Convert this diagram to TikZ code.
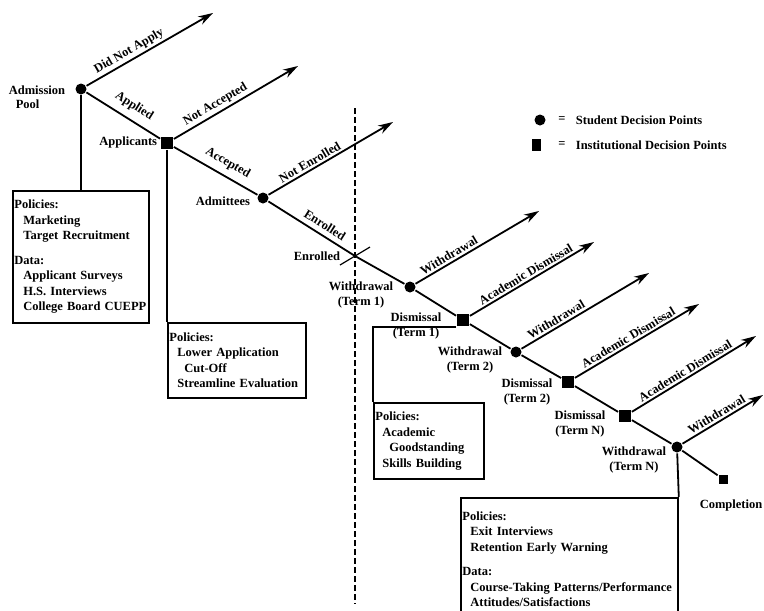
\documentclass[tikz,border=0pt]{standalone}
\usepackage{fontspec}
\setmainfont{Liberation Serif}
\usetikzlibrary{arrows.meta}
\begin{document}
\begin{tikzpicture}[x=1pt,y=-1pt,
  font=\fontsize{12.5}{14.5}\selectfont\bfseries,
  line width=1.8pt,
  dot/.style={circle,fill=black,inner sep=0pt,minimum size=11pt},
  sq/.style={rectangle,fill=black,inner sep=0pt,minimum size=12pt},
  arr/.style={-{Stealth[length=15pt,width=9pt]}},
  lbl/.style={sloped,above=2pt,inner sep=0pt},
  side/.style={inner sep=0pt,align=center},
  box/.style={draw,rectangle,anchor=north west,align=left,inner xsep=1.5pt,inner ysep=0pt,
    font=\fontsize{12.5}{15.5}\selectfont\bfseries}]
\path[fill=white,use as bounding box] (0,0) rectangle (764,611);

% decision points on the spine
\node[dot] (ap) at (81,89) {};
\node[sq] (appl) at (167,143) {};
\node[dot] (adm) at (263,198) {};
\coordinate (enr) at (355,256);
\node[dot] (w1) at (410,287) {};
\node[sq] (d1) at (463,320) {};
\node[dot] (w2) at (516,352) {};
\node[sq] (d2) at (568,382) {};
\node[sq] (dN) at (625,416) {};
\node[dot] (wN) at (677,447) {};
\node[sq,minimum size=9pt] (comp) at (723,479) {};

% arrow tips
\coordinate (t1) at (213,13);
\coordinate (t2) at (298,66);
\coordinate (t3) at (393,122);
\coordinate (t4) at (539,211);
\coordinate (t5) at (594,242);
\coordinate (t6) at (649,273);
\coordinate (t7) at (699,304);
\coordinate (t8) at (756,336);
\coordinate (t9) at (763,395);

% spine
\draw (ap) -- node[lbl,pos=.55,above=5pt]{Applied} (appl)
  -- node[lbl,pos=.57,above=4pt]{Accepted} (adm)
  -- node[lbl,pos=.59,above=3pt]{Enrolled} (enr)
  -- (w1) -- (d1) -- (w2) -- (d2) -- (dN) -- (wN) -- (comp);

% exits
\draw[arr] (ap) -- node[lbl,pos=.37]{Did Not Apply} (t1);
\draw[arr] (appl) -- node[lbl,pos=.37]{Not Accepted} (t2);
\draw[arr] (adm) -- node[lbl,pos=.36]{Not Enrolled} (t3);
\draw[arr] (w1) -- node[lbl,pos=.30]{Withdrawal} (t4);
\draw[arr] (d1) -- node[lbl,pos=.48]{Academic Dismissal} (t5);
\draw[arr] (w2) -- node[lbl,pos=.30]{Withdrawal} (t6);
\draw[arr] (d2) -- node[lbl,pos=.46]{Academic Dismissal} (t7);
\draw[arr] (dN) -- node[lbl,pos=.46]{Academic Dismissal} (t8);
\draw[arr] (wN) -- node[lbl,pos=.47]{Withdrawal} (t9);

% enrolled cross and dashed divider
\coordinate (cx1) at (340,265);
\coordinate (cx2) at (370,247);
\draw[line width=1.2pt] (cx1) -- (cx2);
\coordinate (dtop) at (355,108);
\coordinate (dbot) at (355,604);
\draw[dash pattern=on 6pt off 3pt] (dtop) -- (dbot);

% point labels
\node[side,anchor=east,align=left] (apL) at (66,97) {Admission\\\hspace*{7pt}Pool};
\node[side,anchor=east] (applL) at (158,142) {Applicants};
\node[side,anchor=east] (admL) at (251,201) {Admittees};
\node[side,anchor=east] (enrL) at (341,256) {Enrolled};
\node[side] (w1L) at (361,295) {Withdrawal\\(Term 1)};
\node[side] (d1L) at (416,326) {Dismissal\\(Term 1)};
\node[side] (w2L) at (470,360) {Withdrawal\\(Term 2)};
\node[side] (d2L) at (527,392) {Dismissal\\(Term 2)};
\node[side] (dNL) at (580,424) {Dismissal\\(Term N)};
\node[side] (wNL) at (634,460) {Withdrawal\\(Term N)};
\node[side] (compL) at (731,505) {Completion};

% legend
\node[dot] (lg1) at (540,120) {};
\node[inner sep=0pt] (lg1e) at (562,120) {=};
\node[anchor=west,inner sep=0pt] (lg1t) at (575,120) {Student Decision Points};
\node[sq,minimum width=9pt] (lg2) at (536,145) {};
\node[inner sep=0pt] (lg2e) at (562,145) {=};
\node[anchor=west,inner sep=0pt] (lg2t) at (575,145) {Institutional Decision Points};

% policy boxes
\node[box,text width=133pt,minimum height=132pt] (b1) at (12,190)
  {Policies:\\\hspace*{9pt}Marketing\\\hspace*{9pt}Target Recruitment\\[9pt]
   Data:\\\hspace*{9pt}Applicant Surveys\\\hspace*{9pt}H.S. Interviews\\\hspace*{9pt}College Board CUEPP};
\node[box,text width=135pt,minimum height=75pt] (b2) at (167,322)
  {Policies:\\\hspace*{8pt}Lower Application\\\hspace*{15pt}Cut-Off\\\hspace*{8pt}Streamline Evaluation};
\node[box,text width=107pt,minimum height=76pt] (b3) at (373,402)
  {Policies:\\\hspace*{7pt}Academic\\\hspace*{14pt}Goodstanding\\\hspace*{7pt}Skills Building};
\node[box,text width=214pt,minimum height=123pt] (b4) at (460,497)
  {Policies:\\\hspace*{8pt}Exit Interviews\\\hspace*{8pt}Retention Early Warning\\[9pt]
   Data:\\\hspace*{8pt}Course-Taking Patterns/Performance\\\hspace*{8pt}Attitudes/Satisfactions};

% box connectors
\draw (ap) -- (ap |- b1.north);
\draw (appl) -- (b2.north west);
\draw (d1.south west) -| (b3.north west);
\draw (wN) -- (b4.north east);
\end{tikzpicture}
\end{document}
